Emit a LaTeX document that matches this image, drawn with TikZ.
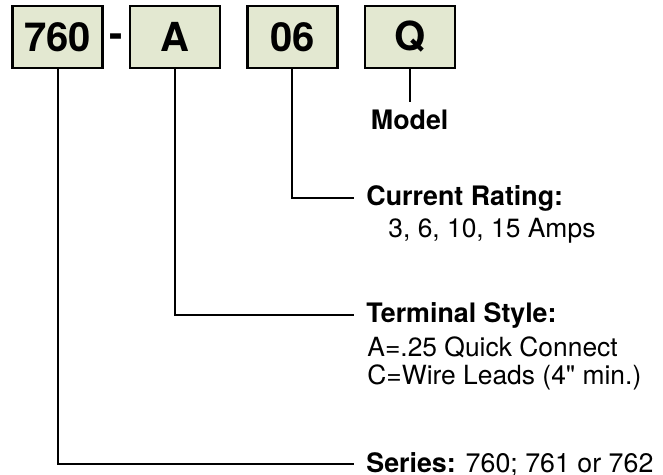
\documentclass[tikz,border=0pt]{standalone}
\usepackage{fontspec}
\setmainfont{TeX Gyre Heros}[Ligatures=TeXOff]
\usetikzlibrary{positioning}
\definecolor{codefill}{RGB}{227,232,209}

\begin{document}
\begin{tikzpicture}[
    x=0.5pt, y=-0.5pt,
    node distance=12.5pt,
    codebox/.style={rectangle, minimum width=45pt, minimum height=31pt,
                    text centered, draw=black, line width=1.2pt, fill=codefill,
                    font=\fontsize{20}{22}\selectfont\bfseries},
    title/.style={anchor=west, inner xsep=1.5pt, font=\fontsize{13.4}{15}\selectfont\bfseries},
    detail/.style={anchor=west, inner sep=0pt, font=\fontsize{13.2}{15}\selectfont},
    leader/.style={line width=1pt}
]
    \useasboundingbox (0,0) rectangle (663,475);

    % Nodes
    \node (seriesbox) [codebox] at (57.5,37) {760};
    \node (dash) [font=\fontsize{20}{22}\selectfont\bfseries, inner sep=0pt] at (116,41) {-};
    \node (termbox) [codebox, right=of seriesbox] {A};
    \node (ratingbox) [codebox, right=of termbox] {06};
    \node (modelbox) [codebox, right=of ratingbox] {Q};

    \node (modellabel) [title, inner ysep=3.5pt, below=16.5pt of modelbox] {Model};
    \node (ratinglabel) [title] at (363,198) {Current Rating:};
    \node (ratingvals) [detail] at (388,231) {3, 6, 10, 15 Amps};
    \node (termlabel) [title] at (363,315) {Terminal Style:};
    \node (termA) [detail] at (367,347) {A=.25 Quick Connect};
    \node (termC) [detail] at (367,377) {C=Wire Leads (4" min.)};
    \node (serieslabel) [title] at (363,464) {Series: \mdseries 760; 761 or 762};

    % Lines (stop a little short of the labels)
    \draw [leader] (modelbox) -- (modellabel);
    \draw [leader] (ratingbox) |- ([xshift=-4.5pt]ratinglabel.west);
    \draw [leader] (termbox) |- ([xshift=-4.5pt]termlabel.west);
    \draw [leader] (seriesbox) |- ([xshift=-4.5pt]serieslabel.west);

\end{tikzpicture}
\end{document}
